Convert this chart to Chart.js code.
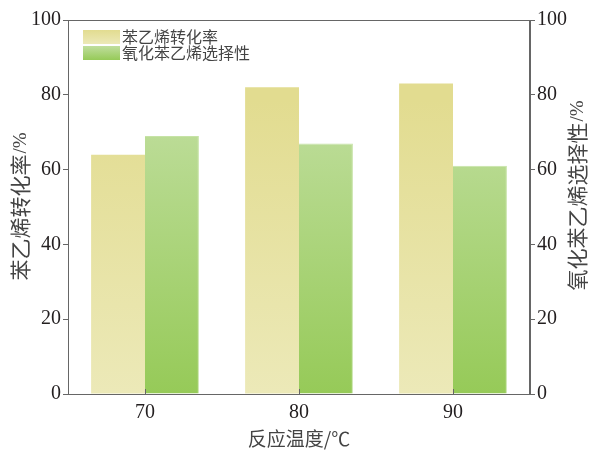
<!DOCTYPE html>
<html>
    <head>
        <title>chart</title>
        <meta charset="UTF-8">
        <script src="https://cdn.jsdelivr.net/npm/chart.js"></script>
        <style>
            body {margin: 0; background: #fff;}
            #wrap {width: 589px; height: 450px;}
        </style>
    </head>
    <body>
        <div id="wrap"><canvas id="myChart"></canvas></div>
    </body>
    <script>
      // data
      const temps = ['70', '80', '90'];
      const conversion = [64, 82, 83];   // 苯乙烯转化率 %
      const selectivity = [69, 67, 61];  // 氧化苯乙烯选择性 %
      const yTicks = [0, 20, 40, 60, 80, 100];
      const leftTitle = '苯乙烯转化率';
      const rightTitle = '氧化苯乙烯选择性';
      const unit = '/%';

      const serif = "'Liberation Serif', 'DejaVu Serif', serif";
      const cjk = "'Noto Sans CJK SC', sans-serif";
      const ink = '#231f20';
      const axisColor = '#666';

      // vertical gradient over the chart area
      function grad(top, bottom) {
        return function(ctx) {
          const area = ctx.chart.chartArea;
          if (!area) return bottom;
          const g = ctx.chart.ctx.createLinearGradient(0, area.bottom, 0, area.top + 80);
          g.addColorStop(0, bottom);
          g.addColorStop(1, top);
          return g;
        };
      }
      const yellowFill = grad('#e2dc90', '#ece9b8');
      const greenFill = grad('#c0de9e', '#96ca58');

      // rotated y title: chinese part + unit, reads bottom to top
      function yTitle(c, text, cx, cy) {
        c.save();
        c.translate(cx, cy);
        c.rotate(-Math.PI / 2);
        c.font = '21px ' + cjk;
        const w1 = c.measureText(text).width;
        c.font = '19px ' + serif;
        const w2 = c.measureText(unit).width;
        let x = -(w1 + w2) / 2;
        c.fillStyle = '#444';
        c.textBaseline = 'middle';
        c.textAlign = 'left';
        c.font = '21px ' + cjk;
        c.fillText(text, x, 0);
        c.font = '19px ' + serif;
        c.fillText(unit, x + w1 + 1, 1);
        c.restore();
      }

      // frame, inner x ticks, titles and the legend inside the plot
      const extras = {
        id: 'extras',
        afterDatasetsDraw(chart) {
          const c = chart.ctx, a = chart.chartArea;
          c.save();
          c.strokeStyle = axisColor;
          c.lineWidth = 1;
          c.strokeRect(a.left + 0.5, a.top + 0.5, a.right - a.left - 1, a.bottom - a.top);
          const xs = chart.scales.x;
          temps.forEach((t, i) => {
            const x = Math.round(xs.getPixelForValue(i)) + 0.5;
            c.beginPath(); c.moveTo(x, a.bottom); c.lineTo(x, a.bottom - 5); c.stroke();
          });
          yTitle(c, leftTitle, 20, 207);
          yTitle(c, rightTitle, 577, 196);
          // legend
          const items = [
            { label: chart.data.datasets[0].label, top: '#e2dc90', bottom: '#ece9b8' },
            { label: chart.data.datasets[1].label, top: '#c0de9e', bottom: '#96ca58' }
          ];
          c.font = '16px ' + cjk;
          c.textBaseline = 'middle';
          items.forEach((it, i) => {
            const y = a.top + 10 + i * 16;
            const g = c.createLinearGradient(0, y, 0, y + 14);
            g.addColorStop(0, it.top); g.addColorStop(1, it.bottom);
            c.fillStyle = g;
            c.fillRect(a.left + 15, y, 37, 14);
            c.fillStyle = '#444';
            c.fillText(it.label, a.left + 54, y + 7);
          });
          c.restore();
        }
      };

      const ctx = document.getElementById('myChart').getContext('2d');
      const chart = new Chart(ctx, {
        type: 'bar',
        data: {
          labels: temps,
          datasets: [
            {
              label: '苯乙烯转化率',
              data: conversion,
              yAxisID: 'y',
              backgroundColor: yellowFill,
              borderWidth: 0
            },
            {
              label: '氧化苯乙烯选择性',
              data: selectivity,
              yAxisID: 'y2',
              backgroundColor: greenFill,
              borderColor: '#c6e3a6',
              borderWidth: { top: 1, left: 0, right: 1, bottom: 0 }
            }
          ]
        },
        options: {
          responsive: true,
          maintainAspectRatio: false,
          animation: false,
          datasets: { bar: { categoryPercentage: 0.7, barPercentage: 1.0 } },
          layout: { padding: { top: 20, left: 0, right: 0, bottom: 0 } },
          plugins: { legend: { display: false }, tooltip: { enabled: false } },
          scales: {
            x: {
              grid: { display: false, drawTicks: false },
              border: { color: axisColor },
              ticks: { color: ink, font: { family: serif, size: 20 }, padding: 7 },
              title: { display: true, text: '反应温度/℃', color: '#444', font: { family: cjk, size: 19 }, padding: { top: 2, bottom: 0 } },
              afterFit(s) { s.height = 56; }
            },
            y: {
              position: 'left',
              min: 0, max: 100,
              afterBuildTicks(s) { s.ticks = yTicks.map(v => ({ value: v })); },
              grid: { drawOnChartArea: false, tickLength: 5, color: axisColor },
              border: { color: axisColor },
              ticks: { color: ink, font: { family: serif, size: 20 }, padding: 2 },
              afterFit(s) { s.width = 68; }
            },
            y2: {
              position: 'right',
              min: 0, max: 100,
              afterBuildTicks(s) { s.ticks = yTicks.map(v => ({ value: v })); },
              grid: { drawOnChartArea: false, tickLength: 5, color: axisColor },
              border: { color: axisColor },
              ticks: { color: ink, font: { family: serif, size: 20 }, padding: 2 },
              afterFit(s) { s.width = 59; }
            }
          }
        },
        plugins: [extras]
      });
    </script>
</html>
